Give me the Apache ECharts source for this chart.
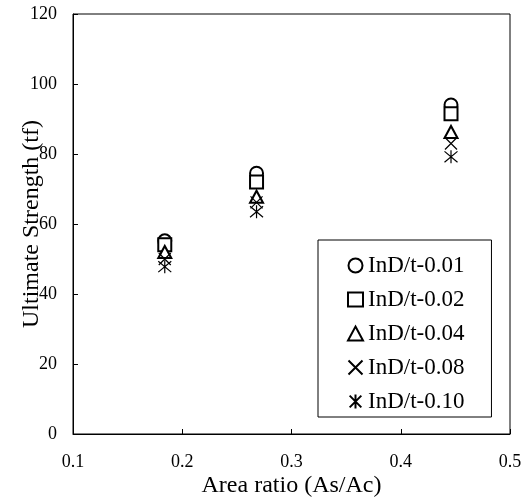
<!DOCTYPE html>
<html>
<head>
<meta charset="utf-8">
<script src="https://cdn.jsdelivr.net/npm/echarts@6/dist/echarts.min.js"></script>
<style>html,body{margin:0;padding:0;background:#fff}#c{width:532px;height:500px}</style>
</head>
<body>
<div id="c"></div>
<script>
const areaRatio = [0.184, 0.268, 0.446];
const seriesNames = ['InD/t-0.01', 'InD/t-0.02', 'InD/t-0.04', 'InD/t-0.08', 'InD/t-0.10'];
const s001 = [55.2, 74.5, 94.0];
const s002 = [54.1, 72.0, 91.5];
const s004 = [52.0, 67.8, 86.3];
const s008 = [50.0, 66.2, 83.0];
const s010 = [47.8, 63.5, 79.2];
const xTicks = [0.1, 0.2, 0.3, 0.4, 0.5];
const yTicks = [0, 20, 40, 60, 80, 100, 120];

const FONT = '"Liberation Serif", "Times New Roman", serif';
const symbols = [
  'emptyCircle',
  'emptyRect',
  'emptyTriangle',
  'path://M0,0L10,10M10,0L0,10',
  'path://M0,0L10,10M10,0L0,10M5,-1L5,11'
];
const sizes = [13, 13, [13, 12], 12, 13];
const allData = [s001, s002, s004, s008, s010];

const chart = echarts.init(document.getElementById('c'), null, {renderer: 'canvas'});
chart.setOption({
  animation: false,
  backgroundColor: '#fff',
  grid: {left: 73, right: 22, top: 14, bottom: 66, show: true, borderColor: '#000', borderWidth: 1,
         containLabel: false, outerBoundsMode: 'none'},
  xAxis: {
    type: 'value', min: xTicks[0], max: xTicks[xTicks.length - 1], interval: 0.1,
    name: 'Area ratio (As/Ac)', nameLocation: 'middle', nameGap: 40, nameMoveOverlap: false,
    nameTextStyle: {fontFamily: FONT, fontSize: 24, color: '#000'},
    axisLine: {lineStyle: {color: '#000', width: 1}},
    axisTick: {inside: true, length: 5, lineStyle: {color: '#000'}},
    axisLabel: {fontFamily: FONT, fontSize: 18, color: '#000', margin: 19, formatter: v => v.toFixed(1)},
    splitLine: {show: false}
  },
  yAxis: {
    type: 'value', min: yTicks[0], max: yTicks[yTicks.length - 1], interval: 20,
    name: 'Ultimate Strength (tf)', nameLocation: 'middle', nameGap: 29, nameMoveOverlap: false,
    nameTextStyle: {fontFamily: FONT, fontSize: 24, color: '#000'},
    axisLine: {lineStyle: {color: '#000', width: 1}},
    axisTick: {inside: true, length: 5, lineStyle: {color: '#000'}},
    axisLabel: {fontFamily: FONT, fontSize: 18, color: '#000', margin: 16},
    splitLine: {show: false}
  },
  legend: {
    show: true, orient: 'vertical', left: 318, top: 240,
    padding: [14, 27, 4, 29], itemGap: 11, itemWidth: 15, itemHeight: 14,
    borderColor: '#000', borderWidth: 1, backgroundColor: '#fff',
    textStyle: {fontFamily: FONT, fontSize: 23, color: '#000', lineHeight: 22},
    data: seriesNames.map((n, i) => ({name: n, icon: symbols[i]}))
  },
  series: seriesNames.map((n, i) => ({
    name: n, type: 'scatter', symbol: symbols[i], symbolSize: sizes[i],
    itemStyle: {color: '#000', borderColor: '#000', borderWidth: 1.2, opacity: 1},
    data: areaRatio.map((x, j) => [x, allData[i][j]])
  }))
});
</script>
</body>
</html>
